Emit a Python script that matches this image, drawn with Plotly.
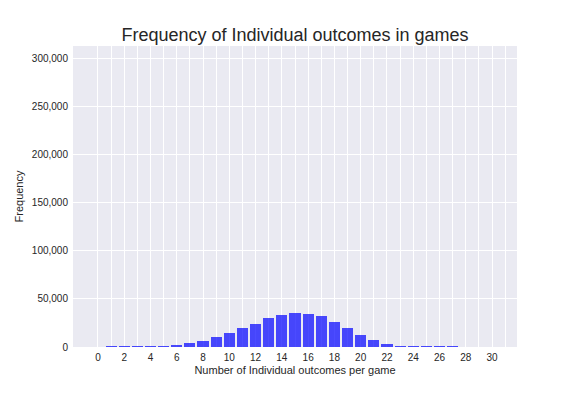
import plotly.graph_objects as go

outcomes = list(range(0, 32))
frequency = [0, 700, 700, 700, 700, 700, 1700, 4200, 6300, 10400, 14600, 19800, 24000,
             30200, 33300, 35400, 34400, 32300, 26000, 19800, 12500, 6900, 3100,
             700, 700, 700, 700, 700, 0, 0, 0, 0]
x_tickvals = list(range(0, 32))
x_ticktext = [str(v) if v % 2 == 0 and v <= 30 else "" for v in x_tickvals]
y_tickvals = [0, 50000, 100000, 150000, 200000, 250000, 300000]
y_ticktext = ["0", "50,000", "100,000", "150,000", "200,000", "250,000", "300,000"]

fig = go.Figure()
fig.add_trace(go.Bar(x=outcomes, y=frequency, width=0.85,
                     marker=dict(color="rgba(0,0,255,0.7)", line=dict(width=0))))

font_family = "Liberation Sans, Arial, sans-serif"
fig.update_layout(
    width=576, height=396,
    margin=dict(l=73, r=59, t=46, b=49),
    paper_bgcolor="white",
    plot_bgcolor="#EAEAF2",
    font=dict(family=font_family, color="#262626", size=10),
    title=dict(text="Frequency of Individual outcomes in games",
               font=dict(size=18, color="#262626"),
               x=295 / 576, xanchor="center", y=1 - 35 / 396, yanchor="middle"),
    showlegend=False,
    bargap=0,
)
fig.update_xaxes(range=[-1.9, 31.9], tickvals=x_tickvals, ticktext=x_ticktext,
                 showgrid=True, gridcolor="white", gridwidth=1, zeroline=False,
                 showline=False, ticks="", tickfont=dict(size=10), ticklabelstandoff=3,
                 title=dict(text="Number of Individual outcomes per game", font=dict(size=11), standoff=4))
fig.update_yaxes(range=[0, 313500], tickvals=y_tickvals, ticktext=y_ticktext,
                 showgrid=True, gridcolor="white", gridwidth=1, zeroline=False,
                 showline=False, ticks="", tickfont=dict(size=10), ticklabelstandoff=4,
                 title=dict(text="Frequency", font=dict(size=11), standoff=5))

fig.write_html("out.html", config={"displayModeBar": False},
               post_script="document.body.style.margin='0';document.body.style.overflow='hidden';")
